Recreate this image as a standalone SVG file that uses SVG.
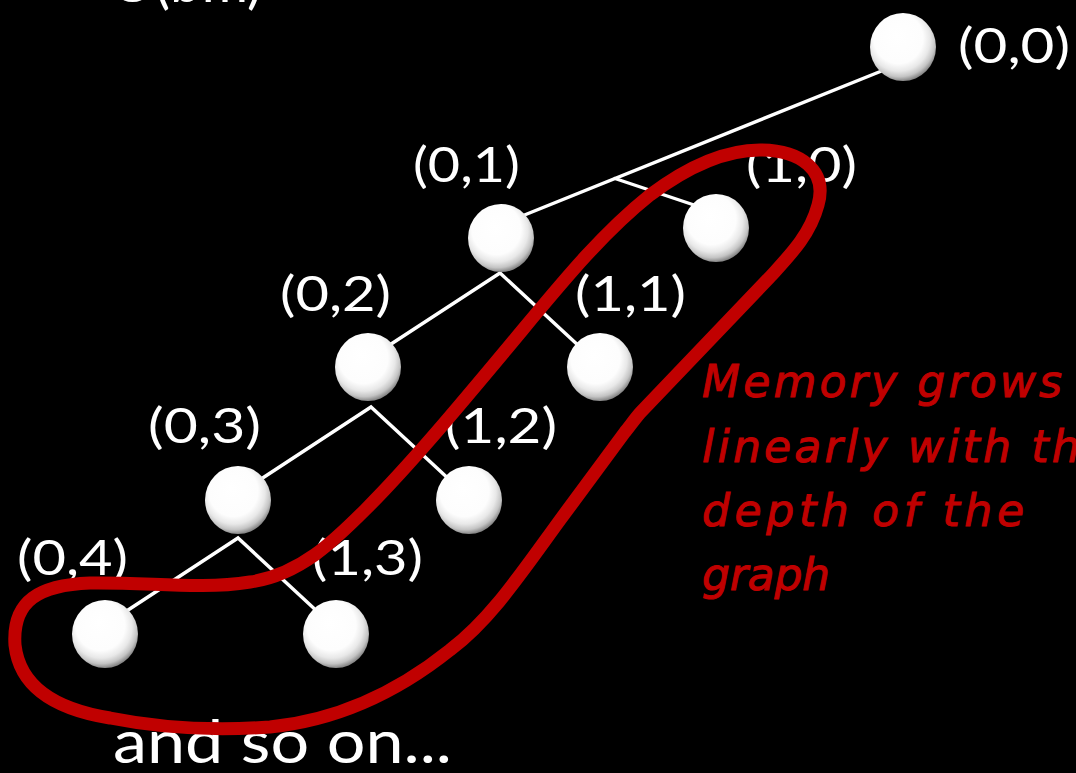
<svg xmlns="http://www.w3.org/2000/svg" width="1076" height="773" viewBox="0 0 1076 773">
<defs>
<radialGradient id="ball" cx="0.45" cy="0.4" r="0.62" fx="0.4" fy="0.33">
<stop offset="0" stop-color="#ffffff"/>
<stop offset="0.6" stop-color="#fdfdfd"/>
<stop offset="0.76" stop-color="#e8e8e8"/>
<stop offset="0.88" stop-color="#c4c4c4"/>
<stop offset="0.96" stop-color="#8e8e8e"/>
<stop offset="1" stop-color="#7a7a7a"/>
</radialGradient>
<style>
.lbl{font-family:Lato,"Open Sans",sans-serif;font-size:48px;fill:#ffffff}
.big{font-family:Lato,"Open Sans",sans-serif;font-size:60px;fill:#ffffff}
.edge{stroke:#ffffff;stroke-width:3.4;fill:none;stroke-linecap:round;stroke-linejoin:miter}
.ball{fill:url(#ball)}
.loop{fill:none;stroke:#C00000;stroke-width:13;stroke-linejoin:round}
.note{font-family:"DejaVu Sans",sans-serif;font-style:italic;font-size:44px;fill:#C00000;stroke:#C00000;stroke-width:1}
</style>
</defs>
<rect width="1076" height="773" fill="#000000"/>
<text class="big" x="110" y="2" textLength="152" lengthAdjust="spacingAndGlyphs">O(bm)</text>
<g id="connectors">
<line class="edge" x1="884" y1="70" x2="522" y2="216"/>
<line class="edge" x1="615" y1="178.5" x2="700" y2="207"/>
<polyline class="edge" points="385,348 500,273 580,347"/>
<polyline class="edge" points="255,483 371,407 452,482"/>
<polyline class="edge" points="122,614 238,538 320,614"/>
</g>
<g id="n00"><ellipse class="ball" cx="903" cy="47" rx="33" ry="34"/><text class="lbl" x="958" y="63" textLength="112" lengthAdjust="spacingAndGlyphs">(0,0)</text></g>
<g id="n01"><ellipse class="ball" cx="501" cy="238" rx="33" ry="34"/><text class="lbl" x="413" y="182" textLength="107" lengthAdjust="spacingAndGlyphs">(0,1)</text></g>
<g id="n10"><ellipse class="ball" cx="716" cy="228" rx="33" ry="34"/><text class="lbl" x="746" y="182" textLength="111" lengthAdjust="spacingAndGlyphs">(1,0)</text></g>
<g id="n02"><ellipse class="ball" cx="368" cy="367" rx="33" ry="34"/><text class="lbl" x="280" y="311" textLength="111" lengthAdjust="spacingAndGlyphs">(0,2)</text></g>
<g id="n11"><ellipse class="ball" cx="600" cy="367" rx="33" ry="34"/><text class="lbl" x="575" y="311" textLength="111" lengthAdjust="spacingAndGlyphs">(1,1)</text></g>
<g id="n03"><ellipse class="ball" cx="238" cy="500" rx="33" ry="34"/><text class="lbl" x="148" y="443" textLength="113" lengthAdjust="spacingAndGlyphs">(0,3)</text></g>
<g id="n12"><ellipse class="ball" cx="469" cy="500" rx="33" ry="34"/><text class="lbl" x="445" y="443" textLength="112" lengthAdjust="spacingAndGlyphs">(1,2)</text></g>
<g id="n04"><ellipse class="ball" cx="105" cy="634" rx="33" ry="34"/><text class="lbl" x="17" y="575" textLength="111" lengthAdjust="spacingAndGlyphs">(0,4)</text></g>
<g id="n13"><ellipse class="ball" cx="336" cy="634" rx="33" ry="34"/><text class="lbl" x="312" y="575" textLength="111" lengthAdjust="spacingAndGlyphs">(1,3)</text></g>
<text class="big" x="113" y="763" textLength="339" lengthAdjust="spacingAndGlyphs">and so on...</text>
<g id="highlight">
<path class="loop" d="M 760,150 C 800,150 828,170 818,205 C 810,235 790,255 770,277 L 640,413 C 634,420 630,426 625,432 L 560,520 C 520,575 490,620 450,650 C 400,690 340,720 270,727 C 200,732 150,726 110,718 C 60,710 20,690 15,645 C 12,600 40,585 90,583 C 150,582 200,590 250,582 C 300,575 335,540 365,510 C 410,465 460,405 510,345 C 560,285 600,235 650,195 C 690,165 725,150 760,150 Z"/>
<text class="note" x="702" y="397" textLength="360" lengthAdjust="spacing">Memory grows</text>
<text class="note" x="702" y="462" textLength="408" lengthAdjust="spacing">linearly with the</text>
<text class="note" x="702" y="526" textLength="322" lengthAdjust="spacing">depth of the</text>
<text class="note" x="702" y="590" textLength="128" lengthAdjust="spacing">graph</text>
</g>
</svg>
